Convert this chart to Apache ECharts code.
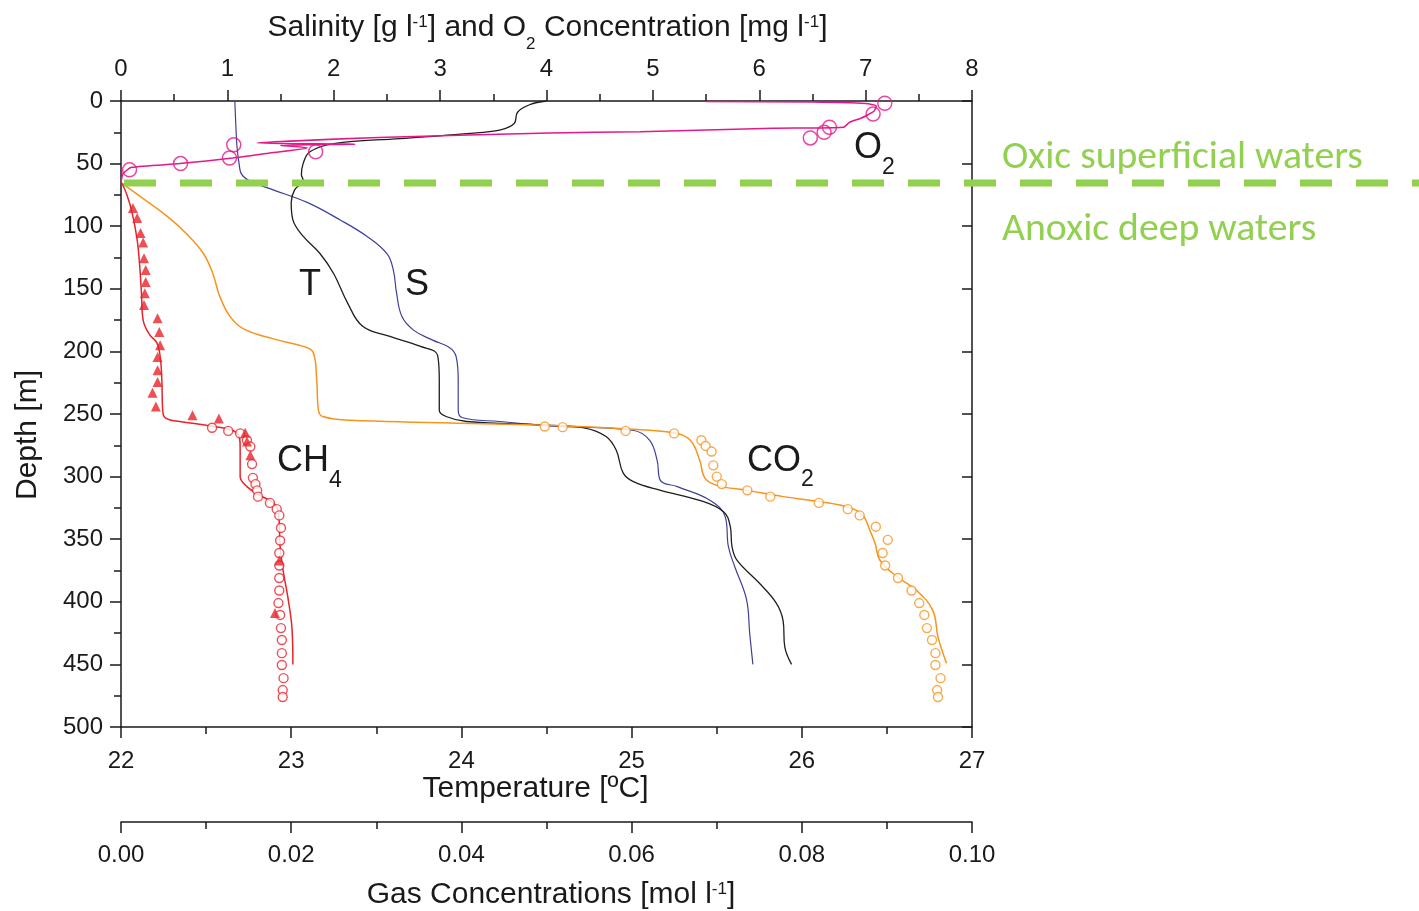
<!DOCTYPE html>
<html><head><meta charset="utf-8">
<script src="https://cdn.jsdelivr.net/npm/echarts/dist/echarts.min.js"></script>
<style>html,body{margin:0;padding:0;background:#fff}#c{width:1419px;height:911px}</style>
</head><body><div id="c"></div>
<script>
// ---------------- data (value, depth m) ----------------
const salinityProfile = [[1.07,0],[1.08,20],[1.09,36],[1.11,50],[1.13,58],[1.19,63],[1.3,67],[1.43,71],[1.75,81],[2.06,95],[2.31,108],[2.5,122],[2.56,135],[2.59,153],[2.64,172],[2.75,183],[2.93,191],[3.09,197],[3.15,204],[3.17,223],[3.17,247],[3.21,253],[3.56,256],[4.03,259.5],[4.81,263],[4.97,271],[5.04,287],[5.07,303],[5.23,308],[5.54,319],[5.68,332],[5.71,356],[5.77,372],[5.88,398],[5.91,425],[5.94,450]];
const temperatureProfile = [[24.50,0],[24.40,3],[24.33,9],[24.31,18],[24.23,23],[24.03,26],[23.64,30],[23.25,34],[23.11,40.5],[23.07,50],[23.06,59],[23.07,63],[23.02,71],[23.00,81],[23.01,95],[23.07,108],[23.17,122],[23.25,138],[23.33,161],[23.42,180],[23.58,188],[23.76,196],[23.86,203],[23.87,223],[23.87,247],[23.91,252],[24.03,256],[24.50,259],[24.72,261],[24.85,268],[24.91,279],[24.95,297],[25.01,304],[25.17,311],[25.40,319],[25.54,328],[25.58,340],[25.59,356],[25.62,367],[25.75,385],[25.85,401],[25.89,415],[25.90,436],[25.94,450]];
const o2Profile = [[5.5,0.3],[6.5,0.8],[7.0,2],[7.1,4],[7.08,8],[7.0,12],[6.95,14],[6.85,17],[6.79,21],[6.13,21.8],[4.88,24.5],[4.03,25.6],[2.5,29],[1.28,33.5],[2.2,34.5],[1.5,35.5],[1.75,37.5],[1.4,41.5],[1.05,45.5],[0.55,50],[0.1,53],[0.02,58],[0.0,65]];
const o2Measured = [[7.18,1.8],[7.07,10.4],[6.66,21],[6.61,25],[6.48,29.5],[1.06,35],[1.83,40.5],[1.02,45.5],[0.56,50],[0.08,55]];
const co2Model = [[0.0002,66],[0.0022,76],[0.0054,92],[0.0077,106],[0.0097,122],[0.0108,138],[0.0116,156],[0.0128,172],[0.0144,182],[0.0179,190],[0.0214,196],[0.0226,201],[0.0230,223],[0.0232,247],[0.0237,252],[0.0269,255],[0.0500,259],[0.0595,262],[0.0649,265],[0.0669,271],[0.0680,287],[0.0686,301],[0.0700,307],[0.0736,311],[0.0778,316],[0.0821,320],[0.0857,325],[0.0872,331],[0.0880,343],[0.0886,353],[0.0892,367],[0.0912,380],[0.0935,391],[0.0954,407],[0.0960,428],[0.0970,449]];
const co2Measured = [[0.0498,260],[0.0519,260.5],[0.0593,263.5],[0.0650,265.5],[0.0682,271],[0.0687,275.5],[0.0694,280],[0.0696,291],[0.0700,300],[0.0706,306],[0.0736,311],[0.0763,316],[0.0820,321],[0.0854,326],[0.0868,331],[0.0887,340],[0.0901,350.5],[0.0895,361],[0.0898,371],[0.0913,381],[0.0929,391],[0.0938,401],[0.0944,410.5],[0.0947,421],[0.0953,430.5],[0.0957,441],[0.0957,450.5],[0.0963,461],[0.0959,470.5],[0.0960,476]];
const ch4Model = [[0.0001,65.5],[0.0007,75],[0.0013,89],[0.0019,111],[0.0022,132],[0.0024,153],[0.0026,175],[0.0034,187],[0.0042,193],[0.0046,204],[0.0048,223],[0.0049,247],[0.0052,253],[0.0069,256],[0.0105,259.5],[0.0136,265],[0.0140,276],[0.0140,300],[0.0148,308],[0.0163,315],[0.0179,321],[0.0185,329],[0.0187,356],[0.0191,377],[0.0196,396],[0.0201,422],[0.0202,450]];
const ch4Measured = [[0.0107,261],[0.0126,263.5],[0.0140,265.5],[0.0148,271],[0.0152,276],[0.0154,290],[0.0155,301],[0.0158,306],[0.0160,311],[0.0161,316],[0.0175,321],[0.0183,326],[0.0186,331],[0.0188,341],[0.0187,351],[0.0186,361],[0.0186,371],[0.0186,381],[0.0186,391],[0.0185,401],[0.0187,410.5],[0.0188,421],[0.0189,430.5],[0.0189,441],[0.0189,450.5],[0.0191,461],[0.0190,470.5],[0.0190,476]];
const ch4Triangles = [[0.0014,85.5],[0.0019,93.5],[0.0023,105.5],[0.0026,113],[0.0027,125.5],[0.0029,135],[0.0029,144.5],[0.0028,153.5],[0.0027,163],[0.0043,173.5],[0.0045,184.5],[0.0046,195],[0.0043,204.5],[0.0043,215],[0.0043,224.5],[0.0037,233],[0.0041,244],[0.0084,251],[0.0115,253.5],[0.0146,265],[0.0148,272],[0.0152,283],[0.0186,367],[0.0181,409]];
const oxicBoundary = [[0,65.5],[1,65.5]];
// axes ranges
const depthRange = [0, 500, 50];
const salinityRange = [0, 8, 1];
const temperatureRange = [22, 27, 1];
const gasRange = [0, 0.10, 0.02];

// ---------------- styles ----------------
const FONT = '"Liberation Sans", Arial, Helvetica, sans-serif';
const INK = '#1a1a1a';
const GREEN = '#92D050';
const C_S = '#3d3f98', C_T = '#1e1e1e', C_O2 = '#E5188B', C_CO2 = '#F7941E', C_CH4 = '#E8232A';
const TICK_FS = 24;

const ctx = document.createElement('canvas').getContext('2d');
function tw(t, size, fam) { ctx.font = size + 'px ' + (fam || FONT); return ctx.measureText(t).width; }
const graphics = [];
function addParts(parts, x, baseline, align, color, fam) {
  fam = fam || FONT;
  const total = parts.reduce((s, p) => s + tw(p[0], p[1], fam), 0);
  let cx = align === 'center' ? x - total / 2 : x;
  for (const [t, size, dy] of parts) {
    graphics.push({type: 'text', x: cx, y: baseline + dy - 0.35 * size, z: 100,
      style: {text: t, font: size + 'px ' + fam, fill: color || INK, align: 'left', verticalAlign: 'middle'}});
    cx += tw(t, size, fam);
  }
}
// axis titles
addParts([['Salinity [g l', 30, 0], ['-1', 17, -10], ['] and O', 30, 0], ['2', 17, 12], [' Concentration [mg l', 30, 0], ['-1', 17, -10], [']', 30, 0]], 547.5, 38.5, 'center');
addParts([['Temperature [ºC]', 30, 0]], 535.5, 799, 'center');
addParts([['Gas Concentrations [mol l', 30, 0], ['-1', 17, -10], [']', 30, 0]], 551, 905, 'center');
graphics.push({type: 'text', x: 28, y: 435, rotation: Math.PI / 2, z: 100,
  style: {text: 'Depth [m]', font: '30px ' + FONT, fill: INK, align: 'center', verticalAlign: 'middle'}});
// curve labels
addParts([['T', 36, 0]], 299, 298, 'left');
addParts([['S', 36, 0]], 405, 298, 'left');
addParts([['CH', 36, 0], ['4', 23, 15]], 277, 474, 'left');
addParts([['CO', 36, 0], ['2', 23, 14]], 747, 474, 'left');
addParts([['O', 36, 0], ['2', 23, 15]], 854, 161, 'left');
// zone labels
const GFAM = 'Carlito, Calibri, Lato, sans-serif';
const gSize = 32 * 361 / tw('Oxic superficial waters', 32, GFAM);
addParts([['Oxic superficial waters', gSize, 0]], 1002, 172, 'left', GREEN, GFAM);
addParts([['Anoxic deep waters', gSize, 0]], 1002, 244, 'left', GREEN, GFAM);

// ---------------- chart ----------------
const lineStyleAxis = {color: INK, width: 1.5};
function xAxisCfg(extra) {
  return Object.assign({
    gridIndex: 0, type: 'value',
    axisLine: {show: true, onZero: false, lineStyle: lineStyleAxis},
    axisTick: {show: true, length: 11, lineStyle: lineStyleAxis},
    minorTick: {show: true, splitNumber: 2, length: 7, lineStyle: lineStyleAxis},
    axisLabel: {show: true, fontSize: TICK_FS, fontFamily: FONT, color: INK, margin: 20, hideOverlap: false, showMinLabel: true, showMaxLabel: true},
    splitLine: {show: false}, minorSplitLine: {show: false}
  }, extra);
}
const SMOOTH = 0.4;
const chart = echarts.init(document.getElementById('c'), null, {renderer: 'canvas'});
chart.setOption({
  backgroundColor: '#fff',
  animation: false,
  grid: [
    {left: 121, right: 447, top: 101, bottom: 184, containLabel: false, outerBoundsMode: 'none'},
    {left: 121, right: 0, top: 101, bottom: 184, containLabel: false, outerBoundsMode: 'none'}
  ],
  xAxis: [
    xAxisCfg({position: 'top', min: salinityRange[0], max: salinityRange[1], interval: salinityRange[2]}),
    xAxisCfg({position: 'bottom', min: temperatureRange[0], max: temperatureRange[1], interval: temperatureRange[2],
      axisLabel: {show: true, fontSize: TICK_FS, fontFamily: FONT, color: INK, margin: 22, hideOverlap: false}}),
    xAxisCfg({position: 'bottom', offset: 95, min: gasRange[0], max: gasRange[1], interval: gasRange[2],
      axisLabel: {show: true, fontSize: TICK_FS, fontFamily: FONT, color: INK, margin: 21, hideOverlap: false, formatter: v => v.toFixed(2)}}),
    {gridIndex: 1, type: 'value', min: 0, max: 1, show: false}
  ],
  yAxis: [
    {gridIndex: 0, type: 'value', position: 'left', inverse: true, min: depthRange[0], max: depthRange[1], interval: depthRange[2],
      axisLine: {show: true, onZero: false, lineStyle: lineStyleAxis},
      axisTick: {show: true, length: 11, lineStyle: lineStyleAxis},
      minorTick: {show: true, splitNumber: 2, length: 7, lineStyle: lineStyleAxis},
      axisLabel: {show: true, fontSize: TICK_FS, fontFamily: FONT, color: INK, margin: 18, hideOverlap: false},
      splitLine: {show: false}, minorSplitLine: {show: false}},
    {gridIndex: 0, type: 'value', position: 'right', inverse: true, min: depthRange[0], max: depthRange[1], interval: depthRange[2],
      axisLine: {show: true, onZero: false, lineStyle: lineStyleAxis},
      axisTick: {show: true, inside: true, length: 10, lineStyle: lineStyleAxis},
      axisLabel: {show: false}, splitLine: {show: false}},
    {gridIndex: 1, type: 'value', inverse: true, min: depthRange[0], max: depthRange[1], show: false}
  ],
  series: [
    {name: 'S', type: 'line', xAxisIndex: 0, yAxisIndex: 0, data: salinityProfile, showSymbol: false, smooth: SMOOTH,
      lineStyle: {color: C_S, width: 1.2}, z: 2},
    {name: 'T', type: 'line', xAxisIndex: 1, yAxisIndex: 0, data: temperatureProfile, showSymbol: false, smooth: SMOOTH,
      lineStyle: {color: C_T, width: 1.3}, z: 2},
    {name: 'CO2 model', type: 'line', xAxisIndex: 2, yAxisIndex: 0, data: co2Model, showSymbol: false, smooth: SMOOTH,
      lineStyle: {color: C_CO2, width: 1.5}, z: 3},
    {name: 'CH4 model', type: 'line', xAxisIndex: 2, yAxisIndex: 0, data: ch4Model, showSymbol: false, smooth: SMOOTH,
      lineStyle: {color: C_CH4, width: 1.5}, z: 3},
    {name: 'O2 profile', type: 'line', xAxisIndex: 0, yAxisIndex: 0, data: o2Profile, showSymbol: false, smooth: 0.2,
      lineStyle: {color: C_O2, width: 1.5}, z: 3},
    {name: 'O2 measured', type: 'scatter', xAxisIndex: 0, yAxisIndex: 0, data: o2Measured, symbol: 'circle', symbolSize: 14,
      itemStyle: {color: 'rgba(255,255,255,0)', borderColor: C_O2, borderWidth: 1.5}, z: 4},
    {name: 'CO2 measured', type: 'scatter', xAxisIndex: 2, yAxisIndex: 0, data: co2Measured, symbol: 'circle', symbolSize: 9,
      itemStyle: {color: '#fff', borderColor: C_CO2, borderWidth: 1.4}, z: 4},
    {name: 'CH4 measured', type: 'scatter', xAxisIndex: 2, yAxisIndex: 0, data: ch4Measured, symbol: 'circle', symbolSize: 9,
      itemStyle: {color: '#fff', borderColor: C_CH4, borderWidth: 1.4}, z: 4},
    {name: 'CH4 triangles', type: 'scatter', xAxisIndex: 2, yAxisIndex: 0, data: ch4Triangles, symbol: 'triangle', symbolSize: 10,
      itemStyle: {color: C_CH4}, z: 5},
    {name: 'Oxic/anoxic boundary', type: 'line', xAxisIndex: 3, yAxisIndex: 2, data: oxicBoundary, showSymbol: false,
      lineStyle: {color: GREEN, width: 7, type: [32, 24], dashOffset: -3}, z: 10}
  ],
  graphic: graphics
});
</script></body></html>
